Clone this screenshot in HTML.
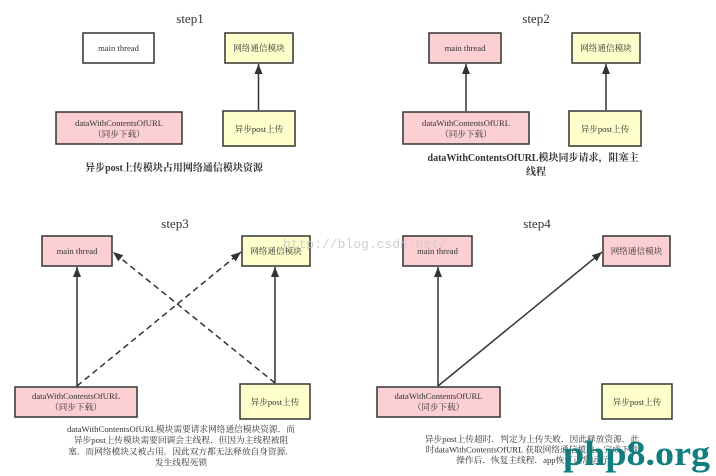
<!DOCTYPE html>
<html><head><meta charset="utf-8"><style>
html,body{margin:0;padding:0;background:#fff;}
svg{display:block;}
text{font-family:"Liberation Serif","Noto Serif CJK SC",serif;fill:#333;}
.b{font-size:8.6px;text-anchor:middle;}
.t{font-size:13px;text-anchor:middle;}
.c{font-size:10px;font-weight:bold;text-anchor:middle;}
.s{font-size:8.7px;text-anchor:middle;}
rect{stroke:#333;stroke-width:1.5;}
.pk{fill:#fccfd2;}
.yl{fill:#ffffcc;}
.wh{fill:#fff;}
line{stroke:#333;stroke-width:1.5;}
.d{stroke-dasharray:6,4;}
</style></head><body>
<svg width="716" height="476" viewBox="0 0 716 476" xmlns="http://www.w3.org/2000/svg">
<defs>
<marker id="a" markerUnits="userSpaceOnUse" markerWidth="10" markerHeight="8" refX="10" refY="4" orient="auto">
<path d="M0,0 L10,4 L0,8 z" fill="#333"/>
</marker>
</defs>

<!-- step1 -->
<text class="t" x="190" y="23">step1</text>
<rect class="wh" x="83" y="33" width="71" height="30"/>
<text class="b" x="118.5" y="51">main thread</text>
<rect class="yl" x="225" y="33" width="68" height="30"/>
<text class="b" x="259" y="51">网络通信模块</text>
<rect class="pk" x="56" y="112" width="126" height="32"/>
<text class="b" x="119" y="126">dataWithContentsOfURL</text>
<text class="b" x="119" y="137">（同步下载）</text>
<rect class="yl" x="223" y="111" width="72" height="35"/>
<text class="b" x="259" y="132">异步post上传</text>
<line x1="258.5" y1="110" x2="258.5" y2="64" marker-end="url(#a)"/>
<text class="c" x="174" y="171">异步post上传模块占用网络通信模块资源</text>

<!-- step2 -->
<text class="t" x="536" y="23">step2</text>
<rect class="pk" x="429" y="33" width="72" height="30"/>
<text class="b" x="465" y="51">main thread</text>
<rect class="yl" x="572" y="33" width="68" height="30"/>
<text class="b" x="606" y="51">网络通信模块</text>
<rect class="pk" x="403" y="112" width="126" height="32"/>
<text class="b" x="466" y="126">dataWithContentsOfURL</text>
<text class="b" x="466" y="137">（同步下载）</text>
<rect class="yl" x="569" y="111" width="72" height="35"/>
<text class="b" x="605" y="132">异步post上传</text>
<line x1="466" y1="111" x2="466" y2="64" marker-end="url(#a)"/>
<line x1="606" y1="110" x2="606" y2="64" marker-end="url(#a)"/>
<text class="c" x="533" y="161">dataWithContentsOfURL模块同步请求，阻塞主</text>
<text class="c" x="536" y="175">线程</text>

<!-- step3 -->
<text class="t" x="175" y="228">step3</text>
<rect class="pk" x="42" y="236" width="70" height="30"/>
<text class="b" x="77" y="254">main thread</text>
<rect class="yl" x="242" y="236" width="68" height="30"/>
<text class="b" x="276" y="254">网络通信模块</text>
<rect class="pk" x="15" y="387" width="122" height="30"/>
<text class="b" x="76" y="399">dataWithContentsOfURL</text>
<text class="b" x="76" y="410">（同步下载）</text>
<rect class="yl" x="240" y="384" width="70" height="35"/>
<text class="b" x="275" y="405">异步post上传</text>
<line x1="77" y1="386" x2="77" y2="267" marker-end="url(#a)"/>
<line x1="275" y1="383" x2="275" y2="267" marker-end="url(#a)"/>
<line class="d" x1="77" y1="386" x2="241" y2="252" marker-end="url(#a)"/>
<line class="d" x1="275" y1="383" x2="113" y2="252" marker-end="url(#a)"/>
<text class="s" x="181" y="432">dataWithContentsOfURL模块需要请求网络通信模块资源．而</text>
<text class="s" x="181" y="443">异步post上传模块需要回调会主线程．但因为主线程被阻</text>
<text class="s" x="181" y="454.5">塞．而网络模块又被占用．因此双方都无法释放自身资源．</text>
<text class="s" x="181" y="465.5">发生线程死锁</text>

<!-- step4 -->
<text class="t" x="537" y="228">step4</text>
<rect class="pk" x="403" y="236" width="69" height="30"/>
<text class="b" x="437.5" y="254">main thread</text>
<rect class="pk" x="603" y="236" width="67" height="30"/>
<text class="b" x="636.5" y="254">网络通信模块</text>
<rect class="pk" x="377" y="387" width="123" height="30"/>
<text class="b" x="438.5" y="399">dataWithContentsOfURL</text>
<text class="b" x="438.5" y="410">（同步下载）</text>
<rect class="yl" x="602" y="384" width="70" height="35"/>
<text class="b" x="637" y="405">异步post上传</text>
<line x1="438" y1="386" x2="438" y2="267" marker-end="url(#a)"/>
<line x1="438" y1="386" x2="602" y2="252" marker-end="url(#a)"/>
<text class="s" x="532" y="442">异步post上传超时．判定为上传失败．因此释放资源．此</text>
<text class="s" x="532" y="452.5">时dataWithContentsOfURL 获取网络通信模块．完成下载</text>
<text class="s" x="532" y="463">操作后．恢复主线程．app恢复正常运行</text>

<!-- watermarks -->
<text x="283" y="248" style="font-family:'Liberation Mono',monospace;font-size:13px;fill:#cfcfcf;">http://blog.csdn.net/</text>
<text x="563" y="465" textLength="147" lengthAdjust="spacingAndGlyphs" style="font-family:'Liberation Serif',serif;font-size:35px;font-weight:bold;fill:#0e7f80;">php8.org</text>
</svg>
</body></html>
